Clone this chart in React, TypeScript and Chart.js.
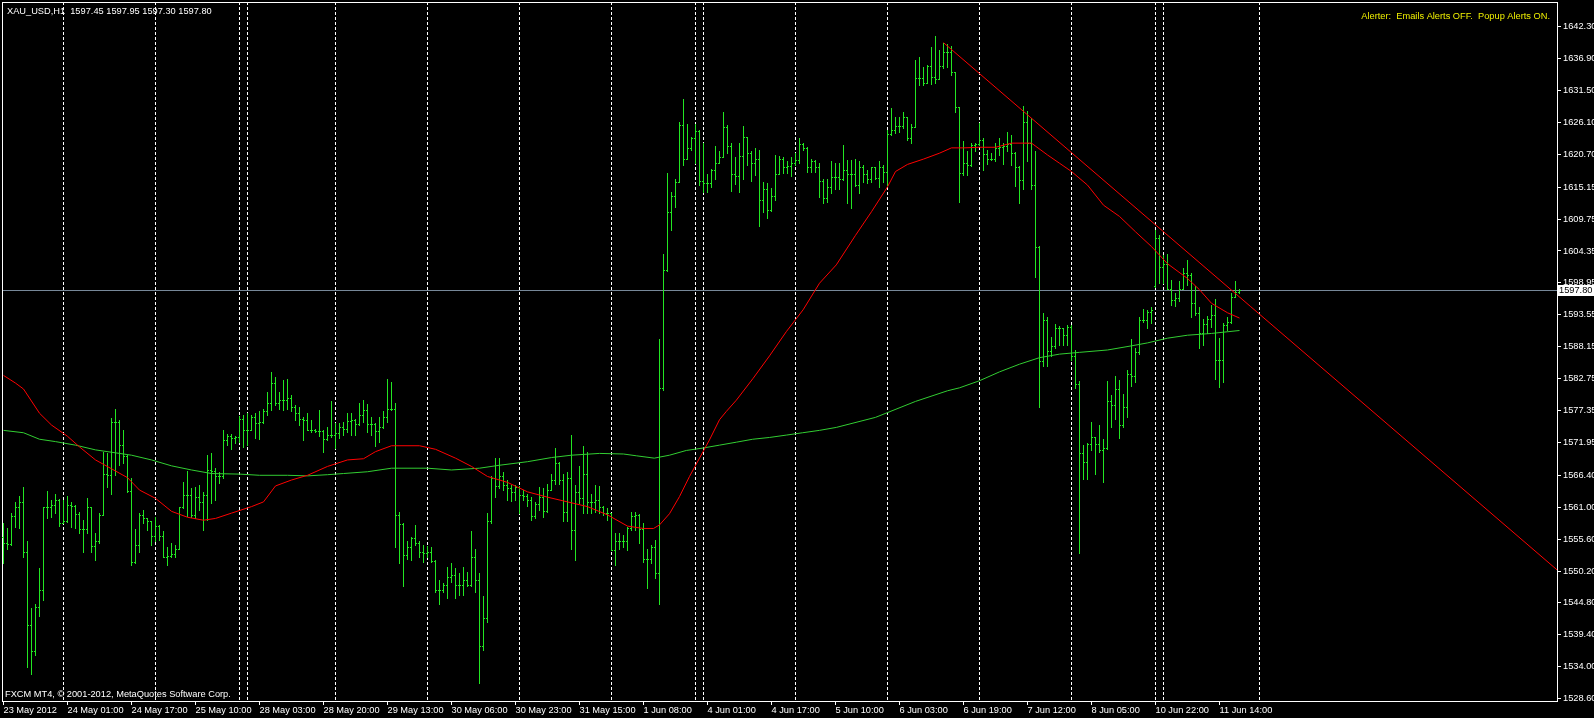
import { useEffect, useRef } from 'react';
import { Chart, registerables } from 'chart.js';

Chart.register(...registerables);

// ---------- DATA (XAU_USD H1, bar index 0 = 23 May 2012 09:00) ----------
const opens: number[] = [
  1556.0, 1555.0, 1554.8, 1559.5, 1561.1, 1561.9, 1553.5, 1541.1, 1536.6, 1544.1,
  1547.0, 1561.0, 1561.1, 1561.3, 1562.2, 1558.3, 1558.7, 1561.4, 1561.2, 1559.8,
  1557.3, 1557.3, 1561.0, 1554.4, 1555.2, 1559.7, 1566.6, 1566.4, 1575.5, 1575.5,
  1571.6, 1569.7, 1563.8, 1551.7, 1554.6, 1559.7, 1559.1, 1558.6, 1556.1, 1557.9,
  1556.1, 1552.6, 1552.8, 1553.0, 1554.0, 1561.0, 1563.1, 1563.1, 1559.7, 1562.7,
  1561.8, 1563.0, 1567.3, 1567.2, 1566.2, 1566.2, 1572.4, 1573.0, 1572.7, 1572.8,
  1576.0, 1574.1, 1574.1, 1576.2, 1575.2, 1575.5, 1577.2, 1578.6, 1582.0, 1578.6,
  1579.2, 1579.1, 1579.4, 1578.0, 1577.0, 1576.0, 1575.8, 1574.1, 1574.1, 1573.9,
  1573.9, 1572.5, 1573.2, 1573.2, 1573.6, 1574.5, 1574.3, 1575.6, 1575.8, 1575.0,
  1576.6, 1577.4, 1575.0, 1575.0, 1573.9, 1574.6, 1576.3, 1577.7, 1577.6, 1559.7,
  1558.1, 1552.9, 1554.2, 1555.8, 1554.9, 1553.5, 1553.3, 1553.5, 1551.9, 1547.0,
  1547.0, 1547.8, 1549.2, 1549.5, 1547.8, 1547.8, 1548.7, 1547.8, 1552.5, 1548.6,
  1537.5, 1542.2, 1558.6, 1565.9, 1564.6, 1566.2, 1564.8, 1564.2, 1563.6, 1564.5,
  1563.1, 1562.9, 1562.3, 1559.5, 1561.5, 1562.8, 1560.4, 1563.9, 1565.6, 1568.4,
  1565.6, 1560.2, 1565.9, 1557.1, 1563.6, 1562.6, 1566.6, 1561.9, 1561.9, 1562.2,
  1561.1, 1560.1, 1560.0, 1553.8, 1555.2, 1555.2, 1555.2, 1557.4, 1559.5, 1559.7,
  1557.3, 1552.3, 1552.3, 1554.3, 1549.8, 1581.1, 1601.2, 1611.0, 1613.6, 1616.1,
  1625.6, 1619.9, 1621.8, 1623.4, 1624.7, 1616.2, 1615.8, 1615.8, 1618.1, 1619.3,
  1620.3, 1625.3, 1622.1, 1617.4, 1617.0, 1620.4, 1623.6, 1621.0, 1619.2, 1619.9,
  1612.9, 1614.8, 1611.3, 1613.7, 1617.4, 1620.0, 1618.5, 1618.8, 1619.3, 1619.7,
  1622.5, 1621.7, 1618.6, 1619.6, 1618.6, 1616.2, 1613.3, 1615.1, 1616.9, 1616.8,
  1616.6, 1618.1, 1617.4, 1617.4, 1615.5, 1618.5, 1617.4, 1616.6, 1618.5, 1616.7,
  1618.6, 1617.7, 1624.1, 1624.8, 1625.5, 1625.5, 1627.0, 1623.4, 1625.4, 1633.6,
  1633.6, 1632.8, 1635.6, 1633.8, 1633.4, 1635.6, 1638.1, 1638.1, 1634.6, 1628.7,
  1617.6, 1619.2, 1618.9, 1622.3, 1622.5, 1623.2, 1620.8, 1620.0, 1620.0, 1621.7,
  1622.0, 1622.1, 1622.5, 1621.0, 1618.5, 1616.3, 1626.2, 1622.7, 1615.5, 1605.1,
  1585.8, 1592.7, 1587.5, 1588.2, 1591.3, 1591.3, 1590.1, 1591.5, 1586.5, 1581.8,
  1570.1, 1568.7, 1571.7, 1572.8, 1571.7, 1570.6, 1571.1, 1579.0, 1578.3, 1581.0,
  1574.9, 1578.0, 1583.5, 1583.2, 1587.3, 1592.7, 1592.7, 1594.1, 1598.5, 1606.5,
  1601.7, 1602.2, 1598.0, 1596.1, 1596.4, 1598.0, 1600.7, 1600.3, 1595.5, 1593.8,
  1590.5, 1592.0, 1592.9, 1593.5, 1585.9, 1585.9, 1591.8, 1592.4, 1596.6, 1597.45,
];

const highs: number[] = [
  1558.3, 1557.4, 1560.0, 1561.9, 1562.9, 1564.5, 1555.2, 1543.9, 1544.7, 1550.7,
  1561.1, 1563.7, 1562.2, 1563.2, 1562.4, 1562.2, 1562.9, 1561.9, 1561.4, 1560.2,
  1558.8, 1562.5, 1561.1, 1556.6, 1560.1, 1570.4, 1570.2, 1576.1, 1577.7, 1575.8,
  1574.1, 1569.8, 1565.9, 1557.3, 1560.0, 1560.5, 1559.1, 1558.6, 1559.4, 1558.0,
  1556.9, 1554.2, 1555.0, 1554.6, 1561.1, 1565.3, 1567.1, 1564.2, 1564.5, 1564.8,
  1563.6, 1569.8, 1570.2, 1567.7, 1567.0, 1574.1, 1573.4, 1573.4, 1573.1, 1576.4,
  1576.6, 1576.9, 1576.6, 1576.9, 1577.2, 1577.7, 1580.5, 1583.8, 1583.1, 1580.5,
  1582.6, 1582.7, 1580.0, 1578.3, 1577.9, 1576.3, 1576.9, 1575.8, 1574.3, 1577.4,
  1574.1, 1574.6, 1579.0, 1575.2, 1575.2, 1575.5, 1576.9, 1577.0, 1575.9, 1578.6,
  1579.1, 1578.4, 1576.3, 1575.2, 1576.3, 1577.2, 1582.7, 1582.2, 1578.7, 1560.2,
  1558.3, 1555.2, 1556.0, 1558.0, 1555.2, 1554.6, 1554.4, 1554.3, 1552.1, 1548.7,
  1548.2, 1550.8, 1551.5, 1550.7, 1549.9, 1550.8, 1550.1, 1556.9, 1554.0, 1549.9,
  1545.9, 1560.0, 1566.2, 1569.3, 1569.3, 1567.0, 1565.6, 1564.8, 1564.8, 1564.6,
  1563.9, 1563.3, 1562.8, 1561.8, 1564.5, 1564.2, 1564.9, 1566.7, 1571.0, 1568.7,
  1566.7, 1566.9, 1573.2, 1564.8, 1567.9, 1571.4, 1570.4, 1563.3, 1564.8, 1564.6,
  1561.2, 1560.8, 1560.0, 1556.6, 1556.6, 1556.3, 1557.7, 1560.2, 1560.2, 1559.8,
  1558.3, 1554.0, 1554.6, 1555.5, 1589.4, 1603.9, 1617.5, 1614.3, 1616.6, 1626.1,
  1630.1, 1625.8, 1623.7, 1625.8, 1624.8, 1622.6, 1617.4, 1618.2, 1622.1, 1621.2,
  1627.9, 1625.7, 1622.6, 1620.3, 1622.6, 1625.5, 1623.7, 1621.2, 1621.7, 1621.5,
  1616.1, 1615.8, 1615.0, 1620.6, 1620.4, 1620.3, 1619.6, 1620.2, 1620.9, 1623.5,
  1622.6, 1622.0, 1620.0, 1619.8, 1619.2, 1616.6, 1616.6, 1619.5, 1619.2, 1619.2,
  1622.3, 1619.7, 1619.7, 1620.0, 1619.5, 1618.9, 1618.1, 1618.6, 1618.6, 1619.5,
  1618.9, 1624.9, 1628.5, 1627.0, 1627.0, 1627.8, 1627.1, 1625.8, 1636.7, 1637.1,
  1635.5, 1635.8, 1638.8, 1640.7, 1638.4, 1639.6, 1639.4, 1639.0, 1634.7, 1628.7,
  1622.9, 1621.2, 1622.7, 1622.7, 1626.0, 1623.4, 1621.5, 1621.0, 1622.7, 1623.4,
  1622.6, 1624.5, 1624.0, 1621.1, 1618.7, 1628.9, 1628.1, 1626.8, 1621.2, 1605.2,
  1593.9, 1593.2, 1589.8, 1592.0, 1591.7, 1591.4, 1591.8, 1591.8, 1587.6, 1582.4,
  1571.5, 1571.8, 1575.5, 1572.9, 1574.9, 1572.5, 1582.4, 1580.0, 1583.2, 1582.6,
  1580.2, 1584.2, 1589.4, 1587.9, 1593.2, 1594.5, 1594.4, 1594.8, 1607.9, 1607.0,
  1603.7, 1603.9, 1599.4, 1597.3, 1599.2, 1601.4, 1602.8, 1600.6, 1598.4, 1594.8,
  1592.9, 1593.3, 1595.2, 1596.2, 1589.6, 1592.1, 1593.2, 1597.2, 1599.3, 1597.95,
];

const lows: number[] = [
  1551.5, 1554.0, 1554.6, 1557.7, 1557.4, 1552.6, 1534.0, 1532.8, 1536.0, 1542.6,
  1545.3, 1559.1, 1559.4, 1560.0, 1557.9, 1558.3, 1558.5, 1557.7, 1557.4, 1556.7,
  1553.5, 1556.6, 1553.5, 1552.1, 1555.0, 1559.7, 1564.5, 1563.3, 1566.4, 1568.1,
  1568.4, 1563.5, 1551.2, 1551.6, 1553.5, 1558.3, 1557.1, 1554.6, 1555.2, 1555.4,
  1552.6, 1551.2, 1552.6, 1552.6, 1554.0, 1560.9, 1559.5, 1559.4, 1559.1, 1560.5,
  1557.1, 1558.8, 1561.7, 1562.2, 1565.1, 1566.0, 1571.5, 1570.8, 1571.8, 1572.1,
  1571.2, 1571.5, 1574.0, 1572.7, 1572.5, 1575.2, 1576.6, 1577.4, 1578.3, 1577.7,
  1577.4, 1577.6, 1577.2, 1575.8, 1574.9, 1572.3, 1574.1, 1573.8, 1573.8, 1573.0,
  1570.4, 1572.3, 1572.8, 1571.0, 1572.7, 1573.2, 1573.8, 1573.2, 1573.2, 1574.9,
  1575.5, 1573.8, 1573.2, 1571.4, 1572.1, 1574.4, 1575.5, 1577.4, 1554.3, 1551.5,
  1547.6, 1552.3, 1552.1, 1554.6, 1552.6, 1551.8, 1552.6, 1551.8, 1546.7, 1544.7,
  1546.7, 1545.6, 1548.4, 1545.6, 1546.1, 1546.1, 1547.7, 1547.6, 1546.6, 1531.2,
  1536.8, 1541.6, 1558.3, 1562.7, 1564.2, 1563.9, 1562.3, 1562.1, 1562.2, 1560.0,
  1562.2, 1561.2, 1558.9, 1559.1, 1560.5, 1559.4, 1560.2, 1563.9, 1565.0, 1565.0,
  1558.6, 1558.6, 1554.0, 1552.1, 1561.7, 1560.0, 1560.0, 1560.0, 1560.2, 1560.1,
  1559.7, 1558.9, 1553.8, 1551.2, 1554.0, 1554.3, 1553.8, 1557.1, 1557.1, 1554.9,
  1551.8, 1547.3, 1551.5, 1549.1, 1544.6, 1580.9, 1601.0, 1607.9, 1611.8, 1616.1,
  1618.9, 1619.9, 1621.5, 1619.2, 1615.5, 1614.4, 1614.4, 1615.1, 1616.6, 1619.2,
  1620.3, 1620.9, 1614.5, 1615.7, 1614.4, 1616.5, 1618.9, 1616.2, 1617.2, 1608.5,
  1611.0, 1609.9, 1611.1, 1612.9, 1617.4, 1617.5, 1617.6, 1617.0, 1618.9, 1619.2,
  1621.5, 1617.8, 1617.8, 1617.8, 1613.5, 1612.5, 1612.7, 1614.1, 1614.9, 1614.9,
  1616.4, 1612.4, 1611.6, 1615.4, 1614.1, 1616.0, 1615.8, 1616.0, 1616.6, 1615.1,
  1616.1, 1615.5, 1624.0, 1624.3, 1624.5, 1625.1, 1623.2, 1622.6, 1625.4, 1632.4,
  1632.4, 1632.7, 1632.6, 1632.8, 1633.4, 1635.3, 1635.5, 1634.1, 1627.8, 1612.7,
  1617.2, 1617.2, 1618.7, 1621.2, 1622.3, 1618.1, 1619.1, 1619.8, 1619.6, 1620.6,
  1619.1, 1621.2, 1618.9, 1615.4, 1612.5, 1614.8, 1619.5, 1614.8, 1600.0, 1578.0,
  1584.9, 1584.9, 1586.5, 1587.9, 1588.4, 1588.4, 1588.4, 1585.9, 1581.1, 1553.3,
  1565.7, 1565.7, 1570.7, 1566.7, 1570.4, 1565.3, 1570.9, 1574.6, 1576.0, 1572.7,
  1574.6, 1576.3, 1581.5, 1582.1, 1587.0, 1592.4, 1591.3, 1592.1, 1598.3, 1599.0,
  1598.9, 1598.0, 1595.2, 1595.0, 1595.9, 1597.9, 1598.6, 1593.1, 1593.5, 1588.0,
  1588.5, 1590.5, 1591.5, 1582.7, 1581.4, 1582.2, 1591.0, 1592.1, 1596.5, 1597.3,
];

const closes: number[] = [
  1555.0, 1554.8, 1559.5, 1561.1, 1561.9, 1553.5, 1541.1, 1536.6, 1544.1, 1547.0,
  1561.0, 1561.1, 1561.3, 1562.2, 1558.3, 1558.7, 1561.4, 1561.2, 1559.8, 1557.3,
  1557.3, 1561.0, 1554.4, 1555.2, 1559.7, 1566.6, 1566.4, 1575.5, 1575.5, 1571.6,
  1569.7, 1563.8, 1551.7, 1554.6, 1559.7, 1559.1, 1558.6, 1556.1, 1557.9, 1556.1,
  1552.6, 1552.8, 1553.0, 1554.0, 1561.0, 1563.1, 1563.1, 1559.7, 1562.7, 1561.8,
  1563.0, 1567.3, 1567.2, 1566.2, 1566.2, 1572.4, 1573.0, 1572.7, 1572.8, 1576.0,
  1574.1, 1574.1, 1576.2, 1575.2, 1575.5, 1577.2, 1578.6, 1582.0, 1578.6, 1579.2,
  1579.1, 1579.4, 1578.0, 1577.0, 1576.0, 1575.8, 1574.1, 1574.1, 1573.9, 1573.9,
  1572.5, 1573.2, 1573.2, 1573.6, 1574.5, 1574.3, 1575.6, 1575.8, 1575.0, 1576.6,
  1577.4, 1575.0, 1575.0, 1573.9, 1574.6, 1576.3, 1577.7, 1577.6, 1559.7, 1558.1,
  1552.9, 1554.2, 1555.8, 1554.9, 1553.5, 1553.3, 1553.5, 1551.9, 1547.0, 1547.0,
  1547.8, 1549.2, 1549.5, 1547.8, 1547.8, 1548.7, 1547.8, 1552.5, 1548.6, 1537.5,
  1542.2, 1558.6, 1565.9, 1564.6, 1566.2, 1564.8, 1564.2, 1563.6, 1564.5, 1563.1,
  1562.9, 1562.3, 1559.5, 1561.5, 1562.8, 1560.4, 1563.9, 1565.6, 1568.4, 1565.6,
  1560.2, 1565.9, 1557.1, 1563.6, 1562.6, 1566.6, 1561.9, 1561.9, 1562.2, 1561.1,
  1560.1, 1560.0, 1553.8, 1555.2, 1555.2, 1555.2, 1557.4, 1559.5, 1559.7, 1557.3,
  1552.3, 1552.3, 1554.3, 1549.8, 1581.1, 1601.2, 1611.0, 1613.6, 1616.1, 1625.6,
  1619.9, 1621.8, 1623.4, 1624.7, 1616.2, 1615.8, 1615.8, 1618.1, 1619.3, 1620.3,
  1625.3, 1622.1, 1617.4, 1617.0, 1620.4, 1623.6, 1621.0, 1619.2, 1619.9, 1612.9,
  1614.8, 1611.3, 1613.7, 1617.4, 1620.0, 1618.5, 1618.8, 1619.3, 1619.7, 1622.5,
  1621.7, 1618.6, 1619.6, 1618.6, 1616.2, 1613.3, 1615.1, 1616.9, 1616.8, 1616.6,
  1618.1, 1617.4, 1617.4, 1615.5, 1618.5, 1617.4, 1616.6, 1618.5, 1616.7, 1618.6,
  1617.7, 1624.1, 1624.8, 1625.5, 1625.5, 1627.0, 1623.4, 1625.4, 1633.6, 1633.6,
  1632.8, 1635.6, 1633.8, 1633.4, 1635.6, 1638.1, 1638.1, 1634.6, 1628.7, 1617.6,
  1619.2, 1618.9, 1622.3, 1622.5, 1623.2, 1620.8, 1620.0, 1620.0, 1621.7, 1622.0,
  1622.1, 1622.5, 1621.0, 1618.5, 1616.3, 1626.2, 1622.7, 1615.5, 1605.1, 1585.8,
  1592.7, 1587.5, 1588.2, 1591.3, 1591.3, 1590.1, 1591.5, 1586.5, 1581.8, 1570.1,
  1568.7, 1571.7, 1572.8, 1571.7, 1570.6, 1571.1, 1579.0, 1578.3, 1581.0, 1574.9,
  1578.0, 1583.5, 1583.2, 1587.3, 1592.7, 1592.7, 1594.1, 1594.3, 1606.5, 1601.7,
  1602.2, 1598.0, 1596.1, 1596.4, 1598.0, 1600.7, 1600.3, 1595.5, 1593.8, 1590.5,
  1592.0, 1592.9, 1593.5, 1585.9, 1585.9, 1591.8, 1592.4, 1596.6, 1597.45, 1597.8,
];

// red moving average (bar index, price)
const redMaBars: number[] = [
  0, 3, 5, 9, 12, 16, 19, 23, 27, 31, 34, 38, 42, 46, 50, 53, 57, 62, 65, 68, 72, 76, 81,
  86, 90, 93, 97, 104, 108, 113, 117, 121, 126, 131, 136, 141, 146, 151, 156, 160, 162.5,
  164, 166.5, 169, 171.5, 174, 176.5, 179, 180.7, 183.2, 187.4, 191.5, 195.7, 199.9, 204,
  208.2, 213, 217, 221, 223, 226, 230, 234, 237,
  240, 244, 248, 252, 257, 261, 264, 267, 271, 275, 279, 283, 287, 291, 296, 299, 302,
  306, 309,
];
const redMaValues: number[] = [
  1583.3, 1582.0, 1581.0, 1576.9, 1574.9, 1573.0, 1571.2, 1569.0, 1567.5, 1566.0, 1563.9,
  1562.5, 1560.3, 1559.3, 1558.8, 1559.1, 1560.0, 1561.1, 1561.9, 1564.6, 1565.6, 1566.4,
  1567.9, 1569.0, 1569.2, 1570.4, 1571.4, 1571.4, 1570.8, 1569.3, 1567.9, 1566.2, 1565.2,
  1563.6, 1562.7, 1561.9, 1561.1, 1559.7, 1557.8, 1557.4, 1557.4,
  1558.0, 1559.9, 1562.8, 1566.2, 1569.3, 1572.4, 1575.8, 1577.2, 1579.1, 1582.8, 1586.6,
  1590.7, 1594.4, 1598.9, 1602.0, 1607.0, 1611.0, 1615.2, 1617.8, 1619.0,
  1619.9, 1620.9, 1621.8, 1621.8, 1621.9, 1621.9, 1622.6, 1622.6, 1620.6, 1619.2, 1617.8,
  1615.5, 1612.1, 1610.2, 1607.6, 1605.1, 1602.2, 1599.7, 1597.8, 1595.5, 1593.9, 1593.0,
];

// green moving average (bar index, price)
const greenMaBars: number[] = [
  0, 5, 9, 13, 18, 23, 27, 32, 37, 42, 47, 52, 59, 64, 71, 76, 81, 85, 91, 97, 106, 112,
  119, 124, 131, 137, 142, 149, 155, 158.2, 162.7, 166.5, 170.7, 174.8, 179, 183.2, 187.3,
  191.5, 195.7, 199.8, 204, 208.2, 218, 228, 236, 239, 244,
  249, 254, 259, 264, 269, 276, 282, 286, 291, 296, 302, 309,
];
const greenMaValues: number[] = [
  1574.0, 1573.6, 1572.5, 1572.1, 1571.5, 1570.7, 1570.3, 1569.8, 1569.0, 1568.0, 1567.3,
  1566.7, 1566.6, 1566.4, 1566.4, 1566.3, 1566.5, 1566.7, 1567.0, 1567.6, 1567.6, 1567.3,
  1567.6, 1568.1, 1568.7, 1569.4, 1569.8, 1570.1, 1570.0, 1569.7, 1569.3, 1569.8, 1570.6,
  1571.0, 1571.5, 1572.0, 1572.5, 1572.8, 1573.2, 1573.6, 1574.0, 1574.5, 1576.2, 1578.9,
  1580.7, 1581.2, 1582.4, 1583.9, 1585.2, 1586.3, 1586.9, 1587.2,
  1587.6, 1588.3, 1588.8, 1589.6, 1590.1, 1590.4, 1590.9,
];

// trend line (start anchor and value at the right edge of the chart)
const trendBars: number[] = [235, 388.375];
const trendPrices: number[] = [1639.6, 1550.4];

const bidPrice = 1597.8;

// axes
const xMin = -0.375;
const xMax = 388.375;
const yMin = 1528.21;
const yMax = 1646.48;

const xLabelBars: number[] = [0, 16, 32, 48, 64, 80, 96, 112, 128, 144, 160, 176, 192, 208, 224, 240, 256, 272, 288, 304];
const xLabels: string[] = [
  '23 May 2012', '24 May 01:00', '24 May 17:00', '25 May 10:00', '28 May 03:00', '28 May 20:00',
  '29 May 13:00', '30 May 06:00', '30 May 23:00', '31 May 15:00', '1 Jun 08:00', '4 Jun 01:00',
  '4 Jun 17:00', '5 Jun 10:00', '6 Jun 03:00', '6 Jun 19:00', '7 Jun 12:00', '8 Jun 05:00',
  '10 Jun 22:00', '11 Jun 14:00',
];
const priceTicks: number[] = [
  1642.3, 1636.9, 1631.5, 1626.1, 1620.7, 1615.15, 1609.75, 1604.35, 1598.95, 1593.55, 1588.15,
  1582.75, 1577.35, 1571.95, 1566.4, 1561.0, 1555.6, 1550.2, 1544.8, 1539.4, 1534.0, 1528.6,
];
const daySeparatorBars: number[] = [15, 38, 59, 61, 83, 106, 129, 152, 173, 175, 198, 221, 244, 267, 288, 290, 314];

const headerText = 'XAU_USD,H1  1597.45 1597.95 1597.30 1597.80';
const alerterText = 'Alerter:  Emails Alerts OFF.  Popup Alerts ON.';
const copyrightText = 'FXCM MT4, \u00A9 2001-2012, MetaQuotes Software Corp.';

// styles
const FONT_FAMILY = '"Liberation Sans", Arial, sans-serif';
const FONT_SIZE = 9.25;
const BAR_COLOR = '#22e622';
const BID_LINE_COLOR = '#778899';

const mt4Plugin = {
  id: 'mt4',
  beforeDraw(chart: any) {
    const { ctx, width, height } = chart;
    ctx.save();
    ctx.fillStyle = '#000000';
    ctx.fillRect(0, 0, width, height);
    ctx.restore();
  },
  beforeDatasetsDraw(chart: any) {
    const { ctx, chartArea: a } = chart;
    const x = chart.scales.x;
    const y = chart.scales.y;
    ctx.save();
    // period separators
    ctx.strokeStyle = '#ffffff';
    ctx.lineWidth = 1;
    ctx.setLineDash([3, 2]);
    for (const b of daySeparatorBars) {
      const px = Math.floor(x.getPixelForValue(b)) + 0.5;
      ctx.beginPath();
      ctx.moveTo(px, a.top);
      ctx.lineTo(px, a.bottom);
      ctx.stroke();
    }
    ctx.setLineDash([]);
    // frame (top / left)
    ctx.fillStyle = '#ffffff';
    ctx.fillRect(a.left, a.top, a.right - a.left, 1);
    ctx.fillRect(a.left, a.top, 1, a.bottom - a.top);
    // bid line
    const yb = Math.round(y.getPixelForValue(bidPrice));
    ctx.fillStyle = BID_LINE_COLOR;
    ctx.fillRect(a.left + 1, yb, a.right - a.left - 1, 1);
    // OHLC bars
    ctx.fillStyle = BAR_COLOR;
    for (let i = 0; i < closes.length; i++) {
      const cx = Math.floor(x.getPixelForValue(i));
      const yh = Math.round(y.getPixelForValue(highs[i]));
      const yl = Math.round(y.getPixelForValue(lows[i]));
      ctx.fillRect(cx, yh, 1, yl - yh + 1);
      ctx.fillRect(cx - 1, Math.round(y.getPixelForValue(opens[i])), 1, 1);
      ctx.fillRect(cx + 1, Math.round(y.getPixelForValue(closes[i])), 1, 1);
    }
    ctx.restore();
  },
  afterDraw(chart: any) {
    const { ctx, chartArea: a } = chart;
    const y = chart.scales.y;
    ctx.save();
    ctx.font = `${FONT_SIZE}px ${FONT_FAMILY}`;
    ctx.textBaseline = 'middle';
    ctx.fillStyle = '#ffffff';
    ctx.textAlign = 'left';
    ctx.fillText(headerText, 7, 11);
    ctx.fillText(copyrightText, 5, 694);
    ctx.fillStyle = '#f0f000';
    ctx.textAlign = 'right';
    ctx.fillText(alerterText, 1550, 16);
    // bid price label on the price axis
    const yb = Math.round(y.getPixelForValue(bidPrice));
    ctx.fillStyle = '#ffffff';
    ctx.fillRect(a.right + 1, yb - 5, 40, 11);
    ctx.fillStyle = '#000000';
    ctx.textAlign = 'left';
    ctx.fillText(bidPrice.toFixed(2), a.right + 2, yb + 0.5);
    ctx.restore();
  },
};

export default function App() {
  const canvasRef = useRef<HTMLCanvasElement>(null);

  useEffect(() => {
    document.body.style.margin = '0';
    document.body.style.background = '#000';
    const canvas = canvasRef.current;
    if (!canvas) return;
    const font = { family: FONT_FAMILY, size: FONT_SIZE };
    const chart = new Chart(canvas, {
      type: 'line',
      data: {
        datasets: [
          {
            label: 'MA red',
            data: redMaBars.map((b, i) => ({ x: b, y: redMaValues[i] })),
            borderColor: '#ff0000',
            borderWidth: 1,
            pointRadius: 0,
            tension: 0,
            fill: false,
          },
          {
            label: 'MA green',
            data: greenMaBars.map((b, i) => ({ x: b, y: greenMaValues[i] })),
            borderColor: '#32cd32',
            borderWidth: 1,
            pointRadius: 0,
            tension: 0,
            fill: false,
          },
          {
            label: 'Trend',
            data: trendBars.map((b, i) => ({ x: b, y: trendPrices[i] })),
            borderColor: '#ff0000',
            borderWidth: 1,
            pointRadius: 0,
            tension: 0,
            fill: false,
          },
        ],
      },
      options: {
        animation: false,
        responsive: false,
        devicePixelRatio: 1,
        layout: { padding: { left: 2, top: 2, right: 0, bottom: 0 } },
        plugins: {
          legend: { display: false },
          tooltip: { enabled: false },
        },
        scales: {
          x: {
            type: 'linear',
            position: 'bottom',
            min: xMin,
            max: xMax,
            afterFit: (s: any) => {
              s.height = 17;
              s.paddingLeft = 0;
              s.paddingRight = 0;
            },
            afterBuildTicks: (s: any) => {
              s.ticks = xLabelBars.map((v) => ({ value: v }));
            },
            grid: {
              display: true,
              drawOnChartArea: false,
              drawTicks: true,
              tickLength: 4,
              color: '#ffffff',
              lineWidth: 1,
            },
            border: { display: true, color: '#ffffff', width: 1 },
            ticks: {
              autoSkip: false,
              maxRotation: 0,
              minRotation: 0,
              align: 'start',
              padding: 0,
              color: '#ffffff',
              font,
              callback: (_v: any, i: number) => xLabels[i] ?? '',
            },
          },
          y: {
            type: 'linear',
            position: 'right',
            min: yMin,
            max: yMax,
            afterFit: (s: any) => {
              s.width = 37;
              s.paddingTop = 0;
              s.paddingBottom = 0;
            },
            afterBuildTicks: (s: any) => {
              s.ticks = priceTicks.map((v) => ({ value: v }));
            },
            grid: {
              display: true,
              drawOnChartArea: false,
              drawTicks: true,
              tickLength: 4,
              color: '#ffffff',
              lineWidth: 1,
            },
            border: { display: true, color: '#ffffff', width: 1 },
            ticks: {
              autoSkip: false,
              padding: 2,
              color: '#ffffff',
              font,
              callback: (v: any) => Number(v).toFixed(2),
            },
          },
        },
      },
      plugins: [mt4Plugin],
    } as any);
    return () => chart.destroy();
  }, []);

  return (
    <div style={{ width: 1594, height: 718, background: '#000', overflow: 'hidden' }}>
      <canvas ref={canvasRef} width={1594} height={718} style={{ display: 'block' }} />
    </div>
  );
}
